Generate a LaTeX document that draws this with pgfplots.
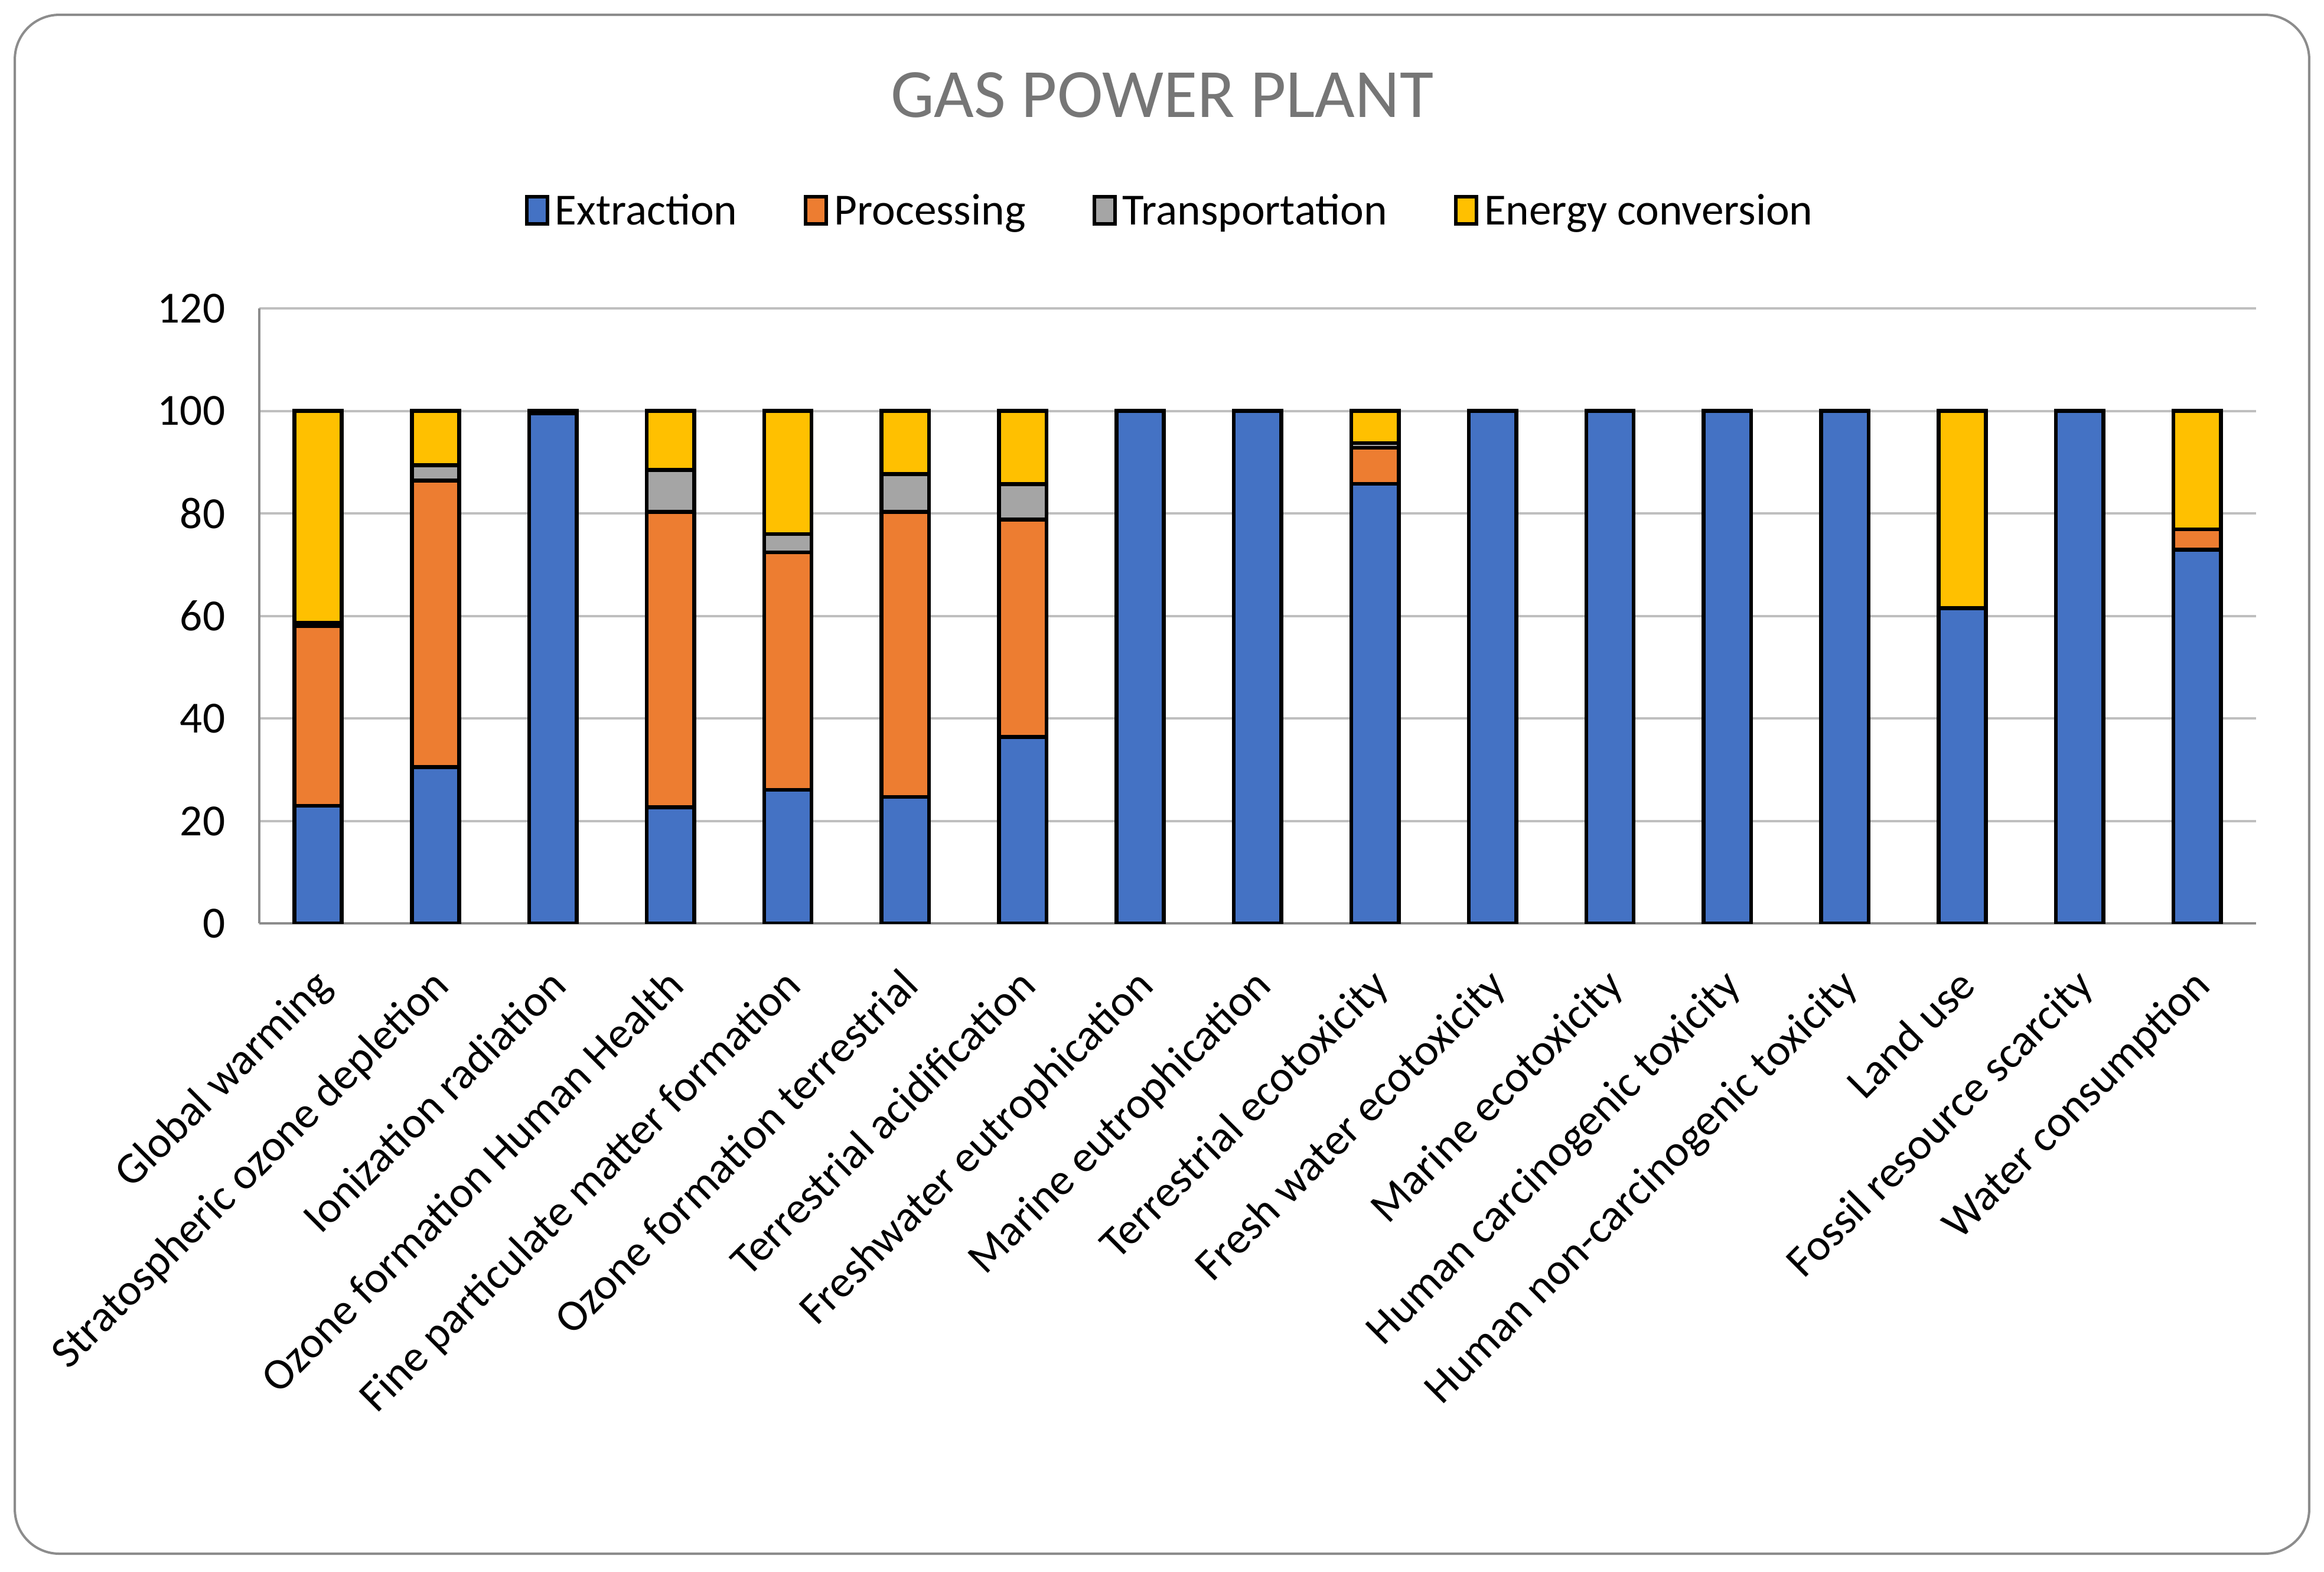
\documentclass[border=0pt]{standalone}
\usepackage{pgfplots}
\pgfplotsset{compat=1.18}
\usepackage{pgfplotstable}
\usepackage{fontspec}
\setmainfont{Carlito}

\definecolor{cExtr}{HTML}{4472C4}
\definecolor{cProc}{HTML}{ED7D31}
\definecolor{cTrans}{HTML}{A5A5A5}
\definecolor{cEnergy}{HTML}{FFC000}
\definecolor{gridgray}{HTML}{BFBFBF}
\definecolor{axisgray}{HTML}{8C8C8C}
\definecolor{titlegray}{HTML}{767676}

% shares of each life-cycle stage, per impact category
\pgfplotstableread{
x  extr  proc  trans  energy
0  23.0  35.0  0.7   41.3
1  30.5  55.9  3.0   10.6
2  99.5  0.3   0.1   0.1
3  22.7  57.6  8.2   11.5
4  26.1  46.3  3.6   24.0
5  24.7  55.6  7.4   12.3
6  36.4  42.4  6.9   14.3
7  100   0     0     0
8  100   0     0     0
9  85.8  7.0   0.9   6.3
10 100   0     0     0
11 100   0     0     0
12 100   0     0     0
13 100   0     0     0
14 61.5  0     0     38.5
15 100   0     0     0
16 72.9  4.0   0     23.1
}\gasdata

\begin{document}
\begin{tikzpicture}
\useasboundingbox (0,0) rectangle (784pt,530pt);
\draw[axisgray, line width=0.8pt, rounded corners=15pt] (5pt,6pt) rectangle (779pt,525pt);
\node[text=titlegray, font=\fontsize{23.3}{27}\selectfont] at (392pt,498pt) {GAS POWER PLANT};
\begin{axis}[
    at={(87.5pt,218.5pt)}, anchor=south west,
    scale only axis, width=673.5pt, height=207.5pt,
    ybar stacked, bar width=16pt,
    xmin=-0.5, xmax=16.5, ymin=0, ymax=120,
    ytick={0,20,...,120},
    xtick=data,
    xticklabels={Global warming, Stratospheric ozone depletion, Ionization radiation,
        Ozone formation Human Health, Fine particulate matter formation,
        Ozone formation terrestrial, Terrestrial acidification,
        Freshwater eutrophication, Marine eutrophication, Terrestrial ecotoxicity,
        Fresh water ecotoxicity, Marine ecotoxicity, Human carcinogenic toxicity,
        Human non-carcinogenic toxicity, Land use, Fossil resource scarcity,
        Water consumption},
    axis x line*=bottom, axis y line*=left,
    axis line style={axisgray, line width=0.8pt, -},
    major tick length=0pt,
    ymajorgrids, grid style={gridgray, line width=0.8pt},
    tick label style={font=\fontsize{15}{18}\selectfont, text=black},
    /pgf/number format/assume math mode=true,
    yticklabel style={xshift=-8pt},
    xticklabel style={rotate=45, anchor=north east, xshift=-11.5pt, yshift=-8.4pt, inner sep=0pt},
    legend columns=4,
    legend style={at={(0.457,1.157)}, anchor=center, draw=none,
        font=\fontsize{15}{18}\selectfont,
        /tikz/every even column/.append style={column sep=20.5pt}},
    legend image code/.code={\draw[#1, line width=1.2pt] (0pt,-4pt) rectangle (7pt,5pt);},
    every axis plot/.append style={draw=black, line width=1.3pt},
]
\addplot[fill=cExtr] table[x=x, y=extr] {\gasdata};
\addplot[fill=cProc] table[x=x, y=proc] {\gasdata};
\addplot[fill=cTrans] table[x=x, y=trans] {\gasdata};
\addplot[fill=cEnergy] table[x=x, y=energy] {\gasdata};
\legend{Extraction, Processing, Transportation, Energy conversion}
\end{axis}
\end{tikzpicture}
\end{document}
